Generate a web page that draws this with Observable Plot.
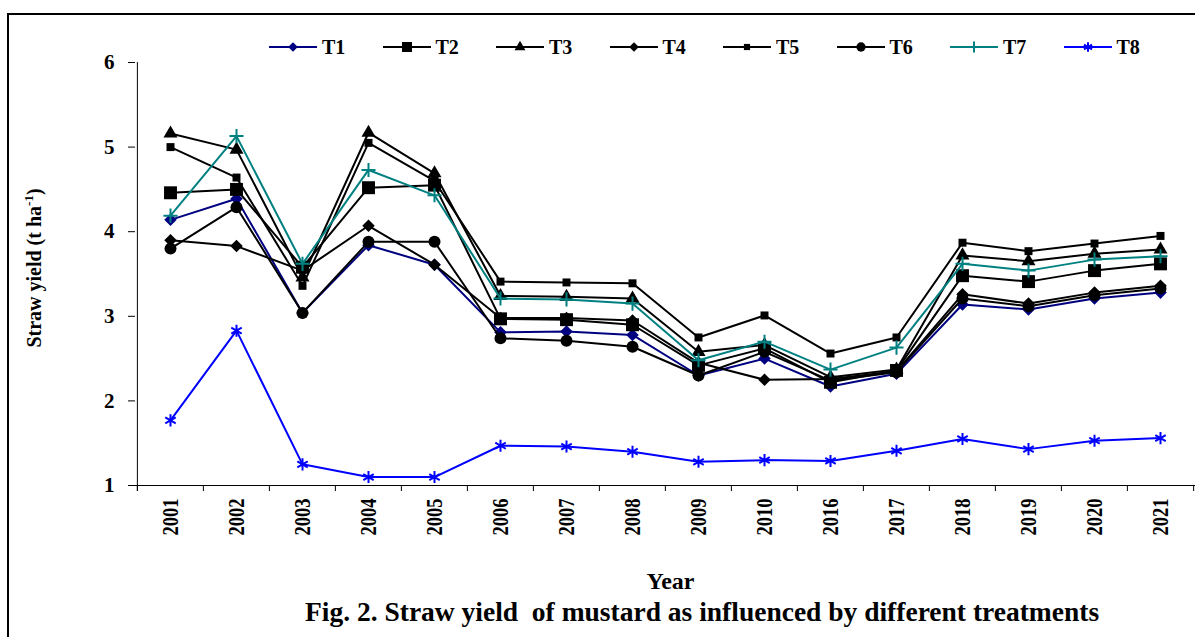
<!DOCTYPE html>
<html><head><meta charset="utf-8">
<script src="https://cdn.jsdelivr.net/npm/d3@7"></script>
<script src="https://cdn.jsdelivr.net/npm/@observablehq/plot@0.6"></script>
<style>
body{margin:0;background:#fff;font-family:"Liberation Serif","Times New Roman",serif;}
#wrap{position:relative;width:1195px;height:637px;overflow:hidden;background:#fff;}
#frame{position:absolute;left:7px;top:13px;right:-5px;bottom:-5px;border-top:2px solid #000;border-left:2px solid #000;pointer-events:none;}
#legend{position:relative;height:52px;}
.item{position:absolute;top:36px;height:22px;display:flex;align-items:center;font-weight:bold;font-size:20px;color:#000;}
.item svg{margin-right:5px;overflow:visible;}
#caption{font-weight:bold;font-size:27.5px;line-height:27px;white-space:pre;padding-left:305px;color:#000;}
</style></head>
<body><div id="wrap"><div id="frame"></div><div id="legend"></div><div id="chart"></div><div id="caption">Fig. 2. Straw yield  of mustard as influenced by different treatments</div></div>
<script>
// ---- data ----
const years = ["2001","2002","2003","2004","2005","2006","2007","2008","2009","2010","2016","2017","2018","2019","2020","2021"];
const seriesNames = ["T1","T2","T3","T4","T5","T6","T7","T8"];
const T1 = [4.14, 4.39, 3.04, 3.84, 3.61, 2.81, 2.82, 2.78, 2.30, 2.50, 2.17, 2.32, 3.14, 3.08, 3.21, 3.28];
const T2 = [4.46, 4.50, 3.58, 4.52, 4.55, 2.97, 2.96, 2.90, 2.42, 2.62, 2.22, 2.36, 3.48, 3.41, 3.54, 3.62];
const T3 = [5.16, 4.97, 3.46, 5.17, 4.69, 3.24, 3.23, 3.21, 2.58, 2.66, 2.28, 2.37, 3.72, 3.65, 3.74, 3.79];
const T4 = [3.90, 3.83, 3.54, 4.07, 3.61, 2.98, 2.98, 2.95, 2.45, 2.25, 2.26, 2.35, 3.26, 3.15, 3.28, 3.36];
const T5 = [5.00, 4.64, 3.36, 5.05, 4.60, 3.41, 3.40, 3.39, 2.75, 3.01, 2.56, 2.75, 3.87, 3.77, 3.86, 3.95];
const T6 = [3.80, 4.29, 3.04, 3.88, 3.88, 2.74, 2.71, 2.64, 2.30, 2.58, 2.24, 2.34, 3.21, 3.12, 3.25, 3.33];
const T7 = [4.19, 5.13, 3.62, 4.73, 4.43, 3.21, 3.20, 3.15, 2.48, 2.70, 2.37, 2.63, 3.62, 3.54, 3.67, 3.71];
const T8 = [1.77, 2.83, 1.25, 1.10, 1.10, 1.47, 1.46, 1.40, 1.28, 1.30, 1.29, 1.41, 1.55, 1.43, 1.53, 1.56];
const yTicks = [1, 2, 3, 4, 5, 6];
const seriesValues = [T1, T2, T3, T4, T5, T6, T7, T8];

// ---- styles ----
const colors = ["#000080","#000000","#000000","#000000","#000000","#000000","#008080","#0000ff"];
const markers = [
  {symbol:"square", r:5, rotate:45, filled:true},
  {symbol:"square", r:7.3, rotate:0, filled:true},
  {symbol:"triangle", r:5.2, rotate:0, filled:true},
  {symbol:"square", r:5, rotate:45, filled:true},
  {symbol:"square", r:4.5, rotate:0, filled:true},
  {symbol:"circle", r:6, rotate:0, filled:true},
  {symbol:"plus", r:4.6, rotate:0, filled:false},
  {symbol:"asterisk", r:5.7, rotate:0, filled:false}
];
const FONT = '"Liberation Serif","Times New Roman",serif';

const rows = seriesNames.flatMap((s, k) => years.map((yr, i) => ({series: s, year: yr, value: seriesValues[k][i]})));

const W = 1195, H = 546, mt = 10, mb = 113, ml = 135, mr = 0;
const plotH = H - mt - mb;
const step = (W - ml - mr) / years.length;

const marks = [
  Plot.ruleY([1], {stroke: "#000", strokeWidth: 1}),
  Plot.ruleX([years[0]], {x: d => d, dx: -step / 2, insetBottom: -6, stroke: "#000", strokeWidth: 1}),
  Plot.ruleX(years, {x: d => d, dx: -step / 2, insetTop: plotH, insetBottom: -6, stroke: "#000", strokeWidth: 1}),
  Plot.ruleX([years[years.length - 1]], {x: d => d, dx: step / 2, insetTop: plotH, insetBottom: -6, stroke: "#000", strokeWidth: 1}),
  Plot.axisY({ticks: yTicks, tickSize: 7, tickPadding: 14, fontSize: 21, fontWeight: "bold", label: null, tickFormat: d => String(d)}),
  Plot.axisX({tickSize: 0, tickPadding: 13, tickRotate: -90, fontSize: 23, fontWeight: "bold", label: null}),
  Plot.text(["Year"], {frameAnchor: "bottom", lineAnchor: "top", dy: 86, dx: 5, fontSize: 24, fontWeight: "bold", fill: "#000"})
];
seriesNames.forEach((s, k) => {
  const d = rows.filter(r => r.series === s);
  const m = markers[k];
  marks.push(Plot.line(d, {x: "year", y: "value", stroke: colors[k], strokeWidth: 2}));
  marks.push(Plot.dot(d, {
    x: "year", y: "value", symbol: m.symbol, r: m.r, rotate: m.rotate,
    fill: m.filled ? colors[k] : "none",
    stroke: m.filled ? "none" : colors[k],
    strokeWidth: m.filled ? 0 : 2
  }));
});

const chart = Plot.plot({
  width: W, height: H,
  marginTop: mt, marginBottom: mb, marginLeft: ml, marginRight: mr,
  style: {fontFamily: FONT, color: "#000", background: "transparent", overflow: "visible"},
  x: {type: "point", domain: years, padding: 0.5},
  y: {domain: [1, 6]},
  marks
});
document.getElementById("chart").appendChild(chart);

// compress rotated year labels to match reference proportions
d3.select(chart).selectAll('g[aria-label="x-axis tick label"] text')
  .attr("textLength", 37).attr("lengthAdjust", "spacingAndGlyphs");

// y-axis title with superscript
const yl = d3.select(chart).append("text")
  .attr("transform", `translate(41,${268 - 52}) rotate(-90)`)
  .attr("text-anchor", "middle")
  .attr("font-family", FONT).attr("font-weight", "bold").attr("font-size", 20).attr("fill", "#000");
yl.append("tspan").text("Straw yield (t ha");
yl.append("tspan").attr("font-size", 13).attr("dy", -8).text("-1");
yl.append("tspan").attr("dy", 8).text(")");

// legend
const symMap = {square: d3.symbolSquare, triangle: d3.symbolTriangle, circle: d3.symbolCircle, plus: d3.symbolPlus, asterisk: d3.symbolAsterisk};
const legend = d3.select("#legend");
seriesNames.forEach((s, k) => {
  const m = markers[k];
  const item = legend.append("div").attr("class", "item").style("left", (269 + k * 113.5) + "px");
  const sv = item.append("svg").attr("width", 48).attr("height", 20);
  sv.append("line").attr("x1", 0).attr("x2", 48).attr("y1", 10).attr("y2", 10).attr("stroke", colors[k]).attr("stroke-width", 2);
  sv.append("path").attr("d", d3.symbol(symMap[m.symbol], Math.PI * m.r * m.r * 0.6)())
    .attr("transform", `translate(24,10) rotate(${m.rotate})`)
    .attr("fill", m.filled ? colors[k] : "none")
    .attr("stroke", m.filled ? "none" : colors[k]).attr("stroke-width", 2);
  item.append("span").text(s);
});
</script>
</body></html>
